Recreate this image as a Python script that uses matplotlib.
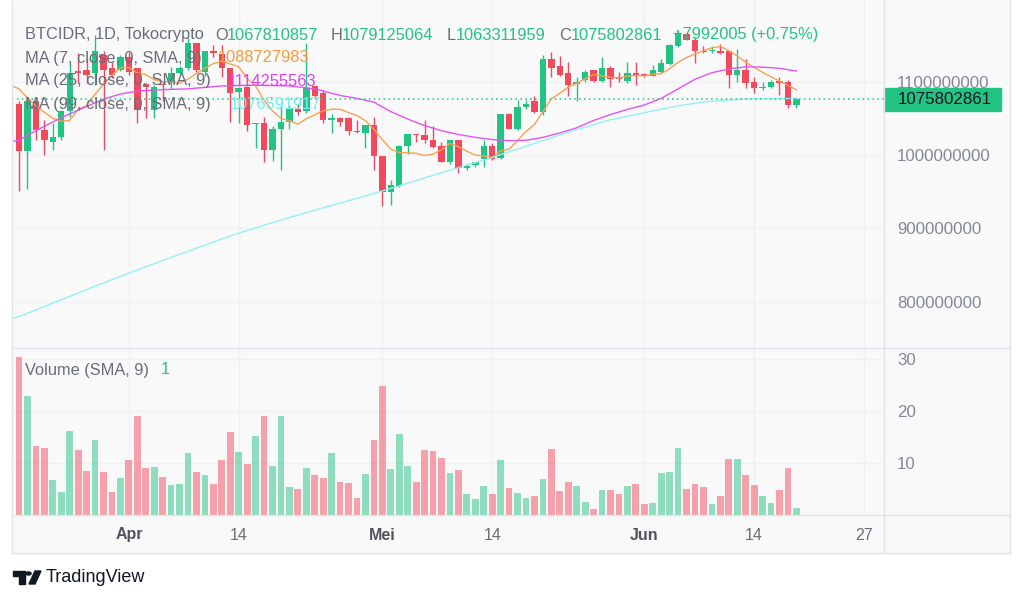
import matplotlib.pyplot as plt
import matplotlib.transforms as mtransforms
from matplotlib.patches import Rectangle, Polygon, Circle
from matplotlib.lines import Line2D
import numpy as np
import pandas as pd

plt.rcParams['font.family'] = ['Liberation Sans', 'DejaVu Sans']

# BTCIDR daily candles, prices in million IDR
start_date = "2024-03-19"
opens = [1069, 1005, 1074, 1034, 1018, 1025, 1060, 1114, 1116, 1111,
         1136, 1118, 1116, 1133, 1118, 1096, 1061, 1097, 1100, 1112,
         1118, 1152, 1113, 1141, 1138, 1118, 1086, 1093, 1042, 1043,
         1007, 1036, 1045, 1063, 1060, 1094, 1084, 1047, 1050, 1050,
         1032, 1030, 1041, 998, 950, 958, 1012, 1028, 1027, 1020,
         1012, 991, 1020, 982, 986, 994, 1012, 996, 1056, 1036,
         1065, 1073, 1059, 1131, 1121, 1112, 1097, 1102, 1115, 1101,
         1118, 1106, 1101, 1112, 1110, 1108, 1113, 1124, 1148, 1165,
         1157, 1141, 1141, 1142, 1141, 1109, 1115, 1100, 1091, 1093,
         1101, 1099, 1067.810857]
highs = [1073, 1077, 1078, 1047, 1043, 1061, 1125, 1139, 1132, 1163,
         1141, 1127, 1136, 1140, 1118, 1098, 1095, 1099, 1120, 1121,
         1159, 1152, 1141, 1150, 1150, 1118, 1093, 1094, 1044, 1052,
         1039, 1068, 1068, 1070, 1152, 1094, 1088, 1056, 1052, 1052,
         1048, 1041, 1052, 998, 966, 1014, 1029, 1029, 1048, 1039,
         1018, 1020, 1020, 988, 989, 1020, 1016, 1056, 1057, 1075,
         1075, 1080, 1136, 1140, 1135, 1127, 1106, 1115, 1115, 1133,
         1121, 1113, 1126, 1127, 1112, 1122, 1130, 1151, 1170, 1168,
         1160, 1148, 1148, 1151, 1141, 1144, 1130, 1106, 1100, 1102,
         1106, 1102, 1079.125064]
lows = [951, 954, 1020, 1000, 1007, 1020, 1052, 1098, 1098, 1095,
        1007, 1105, 1114, 1109, 1044, 1051, 1051, 1074, 1090, 1110,
        1116, 1113, 1108, 1134, 1106, 1045, 1043, 1032, 1010, 991,
        992, 980, 1035, 1055, 1057, 1077, 1043, 1030, 1040, 1027,
        1030, 1010, 980, 931, 932, 957, 1001, 1018, 1017, 1010,
        990, 988, 975, 980, 984, 984, 993, 995, 1035, 1034,
        1063, 1057, 1054, 1106, 1108, 1080, 1073, 1100, 1100, 1100,
        1093, 1100, 1098, 1095, 1106, 1107, 1112, 1122, 1147, 1156,
        1125, 1139, 1139, 1137, 1091, 1100, 1091, 1084, 1089, 1091,
        1082, 1064, 1063.311959]
closes = [1005, 1074, 1034, 1020, 1025, 1060, 1111, 1112, 1109, 1141,
          1116, 1109, 1133, 1113, 1061, 1093, 1093, 1095, 1111, 1118,
          1152, 1115, 1141, 1139, 1118, 1084, 1091, 1041, 1043, 1007,
          1036, 1045, 1064, 1059, 1091, 1080, 1047, 1050, 1045, 1032,
          1031, 1041, 998, 950, 959, 1012, 1029, 1027, 1020, 1011,
          991, 1020, 982, 985, 990, 1012, 994, 1056, 1036, 1065,
          1070, 1059, 1131, 1118, 1109, 1095, 1100, 1113, 1101, 1118,
          1104, 1103, 1112, 1107, 1108, 1116, 1125, 1150, 1165, 1157,
          1141, 1140, 1142, 1139, 1109, 1115, 1098, 1091, 1093, 1100,
          1098, 1067.810856, 1075.802861]
volumes = [30.4, 22.9, 13.3, 12.8, 6.7, 4.5, 16.2, 12.5, 8.5, 14.4,
           8.3, 4.4, 7.1, 10.6, 19.1, 9.0, 9.3, 7.4, 5.8, 5.9,
           12.0, 8.3, 7.7, 5.9, 10.6, 15.9, 12.1, 9.8, 15.1, 19.0,
           9.4, 19.0, 5.3, 5.0, 9.1, 7.6, 7.1, 12.0, 6.3, 6.1,
           3.2, 7.9, 14.4, 24.8, 8.8, 15.5, 9.4, 6.3, 12.4, 12.3,
           11.0, 8.1, 8.6, 4.0, 3.1, 5.6, 4.1, 10.6, 5.1, 4.2,
           3.3, 3.7, 6.9, 12.7, 4.6, 6.3, 5.5, 2.5, 1.2, 4.8,
           4.9, 4.0, 5.6, 5.9, 2.1, 2.4, 8.0, 8.3, 12.8, 5.0,
           6.0, 5.4, 2.1, 3.6, 10.7, 10.8, 7.6, 5.8, 3.6, 2.3,
           4.9, 9.0, 1.4]

# moving averages (day -1 = left edge)
ma7 = [1095, 1090, 1078, 1067, 1058, 1050, 1046, 1047.0, 1062.3, 1067.3, 1082.6,
       1096.3, 1108.3, 1118.7, 1119.0, 1111.7, 1109.4, 1102.6, 1099.6, 1099.9, 1097.7,
       1103.3, 1111.0, 1117.9, 1124.4, 1127.7, 1123.9, 1120.0, 1104.1, 1093.9, 1074.7,
       1060.0, 1049.6, 1046.7, 1042.1, 1049.3, 1054.6, 1060.3, 1062.3, 1062.3, 1057.7,
       1053.7, 1046.6, 1034.9, 1021.0, 1008.0, 1003.3, 1002.9, 1002.3, 999.3, 1001.1,
       1007.0, 1015.7, 1011.4, 1005.1, 999.9, 998.7, 996.3, 1005.6, 1007.9, 1019.7,
       1031.9, 1041.7, 1058.7, 1076.4, 1084.0, 1092.4, 1097.4, 1103.6, 1109.6, 1107.7,
       1105.7, 1104.9, 1107.3, 1108.3, 1107.6, 1109.7, 1110.7, 1117.3, 1126.1, 1132.6,
       1137.4, 1142.0, 1145.7, 1147.7, 1141.9, 1134.7, 1126.3, 1119.1, 1112.4, 1106.4,
       1100.6, 1094.7, 1088.727983]
ma25_idx = [-1, 0, 2, 4, 6, 8, 10, 12, 14, 17, 20, 24, 28, 32, 35, 38, 40, 42, 44,
            46, 48, 50, 52, 54, 56, 58, 60, 62, 64, 66, 68, 70, 72, 74, 76, 78, 80,
            82, 84, 86, 88, 90, 92]
ma25_val = [1018, 1020, 1033, 1045, 1056, 1066, 1076, 1083, 1087, 1089, 1090, 1094,
            1095, 1094, 1090, 1081, 1077, 1072, 1059, 1049, 1040, 1033, 1028, 1024,
            1021, 1019.5, 1020, 1024, 1030, 1037, 1047, 1055, 1062, 1068, 1077, 1090,
            1103, 1112, 1117, 1120, 1119.5, 1118, 1114.255563]
ma99_idx = [-1, 0, 5, 10, 15, 20, 25, 30, 35, 40, 45, 50, 55, 60, 65, 70, 75, 78,
            81, 84, 87, 90, 92]
ma99_val = [777, 780, 803, 826, 848, 869, 890, 908, 925, 941, 958, 976, 993, 1012,
            1031, 1048, 1060, 1067, 1072, 1075, 1076.5, 1077, 1076.591917]

tick_dates = ["2024-04-01", "2024-04-14", "2024-05-01", "2024-05-14",
              "2024-06-01", "2024-06-14", "2024-06-27"]
tick_labels = ["Apr", "14", "Mei", "14", "Jun", "14", "27"]
price_ticks = [800, 900, 1000, 1100]
volume_ticks = [10, 20, 30]

UP = '#22c383'
DOWN = '#f2495c'
GRAY = '#6a6d78'
AXIS_TXT = '#848893'
GRID = '#eff0f3'
BORDER = '#e1e3ea'
BG = '#f9f9fa'

W, H = 1024, 601
fig = plt.figure(figsize=(W / 100, H / 100), dpi=100)
fig.patch.set_facecolor('white')


def box(x0, y0, x1, y1):
    return [x0 / W, 1 - y1 / H, (x1 - x0) / W, (y1 - y0) / H]


def ftext(x, y, s, **kw):
    fig.text(x / W, 1 - y / H, s, va='center', ha='left', **kw)


fig.add_artist(Rectangle((12 / W, 1 - 553 / H), 998 / W, 553 / H,
                         transform=fig.transFigure, color=BG, zorder=0))

ax = fig.add_axes(box(12, 0, 884, 348))
axv = fig.add_axes(box(12, 348, 884, 515))

x = np.arange(len(closes))
start = pd.Timestamp(start_date)
tick_pos = [(pd.Timestamp(d) - start).days for d in tick_dates]

for a in (ax, axv):
    a.set_facecolor(BG)
    for s in a.spines.values():
        s.set_visible(False)
    a.set_xlim(-0.83, 102.37)
    a.set_xticks(tick_pos)
    a.grid(True, color=GRID, lw=1, zorder=0)
    a.set_axisbelow(True)
    a.yaxis.tick_right()
    a.tick_params(axis='y', length=0, pad=9.4, labelsize=12.2, labelcolor=AXIS_TXT)
    a.tick_params(axis='x', length=0)

# price pane
ax.set_ylim(737.4, 1210.9)
ax.set_yticks(price_ticks)
ax.set_yticklabels([f"{round(v * 1e6)}" for v in price_ticks])
ax.tick_params(axis='x', labelbottom=False)

o = np.array(opens)
c = np.array(closes)
colors = [UP if cc >= oo else DOWN for oo, cc in zip(o, c)]
ax.vlines(x, lows, highs, colors=colors, lw=1.0, zorder=2)
body = np.maximum(np.abs(c - o), 1.3)
ax.bar(x, body, bottom=np.minimum(o, c), width=0.76, color=colors, lw=0, zorder=3)

ax.plot(np.arange(-1, len(ma7) - 1), ma7, color='#f6a24f', lw=1.0, zorder=4)
ax.plot(ma25_idx, ma25_val, color='#e354f2', lw=1.0, zorder=4)
ax.plot(ma99_idx, ma99_val, color='#92f2f4', lw=1.0, zorder=4)

last = closes[-1]
ax.axhline(last, color=UP, lw=1.1, ls=(0, (1, 2.2)), zorder=4)
blend = mtransforms.blended_transform_factory(ax.transAxes, ax.transData)
ax.add_patch(Rectangle((1.0, last - 15.4), 1.1338 - 1.0, 30.8, transform=blend,
                       color=UP, clip_on=False, zorder=6))
ax.text(1 + 13.5 / 872, last, f"{round(last * 1e6)}", transform=blend,
        va='center', ha='left', fontsize=12.2, color='#131722', zorder=7)

# volume pane
vcolors = [UP if cc >= oo else DOWN for oo, cc in zip(o, c)]
axv.bar(x, volumes, width=0.8, color=vcolors, alpha=0.5, lw=0, zorder=2)
axv.set_ylim(0, 32.1)
axv.set_yticks(volume_ticks)
axv.set_yticklabels([str(v) for v in volume_ticks])
axv.set_xticklabels(tick_labels)
axv.tick_params(axis='x', pad=9, labelsize=11.5, labelcolor=GRAY)
for lab in axv.get_xticklabels():
    if not lab.get_text().isdigit():
        lab.set_fontweight('bold')
        lab.set_color('#50535e')

# legend rows
FS = 11.8
ftext(25, 35, "BTCIDR, 1D, Tokocrypto", color=GRAY, fontsize=FS)
ohlc = [("O", opens[-1], 215, 227), ("H", highs[-1], 331, 342),
        ("L", lows[-1], 447, 456), ("C", closes[-1], 559, 571)]
for lab, val, xl, xv in ohlc:
    ftext(xl, 35, lab, color=GRAY, fontsize=FS)
    ftext(xv, 35, f"{round(val * 1e6)}", color=UP, fontsize=FS)
chg = round((closes[-1] - closes[-2]) * 1e6)
pct = (closes[-1] - closes[-2]) / closes[-2] * 100
ftext(673, 35, f"+{chg} (+{pct:.2f}%)", color=UP, fontsize=FS)

ftext(25, 58, "MA (7, close, 0, SMA, 9)", color=GRAY, fontsize=FS)
ftext(218, 58, f"{round(ma7[-1] * 1e6)}", color='#f59b3a', fontsize=FS)
ftext(25, 81, "MA (25, close, 0, SMA, 9)", color=GRAY, fontsize=FS)
ftext(228, 81, f"{round(ma25_val[-1] * 1e6)}", color='#e040f0', fontsize=FS)
ftext(25, 104, "MA (99, close, 0, SMA, 9)", color=GRAY, fontsize=FS)
ftext(230, 104, f"{round(ma99_val[-1] * 1e6)}", color='#6ef0f4', fontsize=FS)
ftext(25, 370, "Volume (SMA, 9)", color=GRAY, fontsize=FS)
ftext(161, 370, "1", color=UP, fontsize=FS)

# borders
for xs, ys in [((12, 12), (0, 553)), ((884, 884), (0, 553)), ((1010, 1010), (0, 553)),
               ((12, 1010), (348, 348)), ((12, 1010), (515, 515)), ((12, 1010), (553, 553))]:
    fig.add_artist(Line2D([v / W for v in xs], [1 - v / H for v in ys],
                          transform=fig.transFigure, color=BORDER, lw=1, zorder=8))

# TradingView logo
def fp(px, py):
    return (px / W, 1 - py / H)

fig.add_artist(Polygon([fp(13, 571), fp(25, 571), fp(25, 584), fp(19, 584), fp(19, 576), fp(13, 576)],
                       closed=True, transform=fig.transFigure, color='#131722'))
fig.add_artist(Circle(fp(28.5, 573.5), 2.6 / W, transform=fig.transFigure, color='#131722'))
fig.add_artist(Polygon([fp(29, 584), fp(35, 571), fp(41, 571), fp(35, 584)],
                       closed=True, transform=fig.transFigure, color='#131722'))
ftext(46, 578, "TradingView", color='#131722', fontsize=13)

fig.savefig("out.png", dpi=100, facecolor='white')
